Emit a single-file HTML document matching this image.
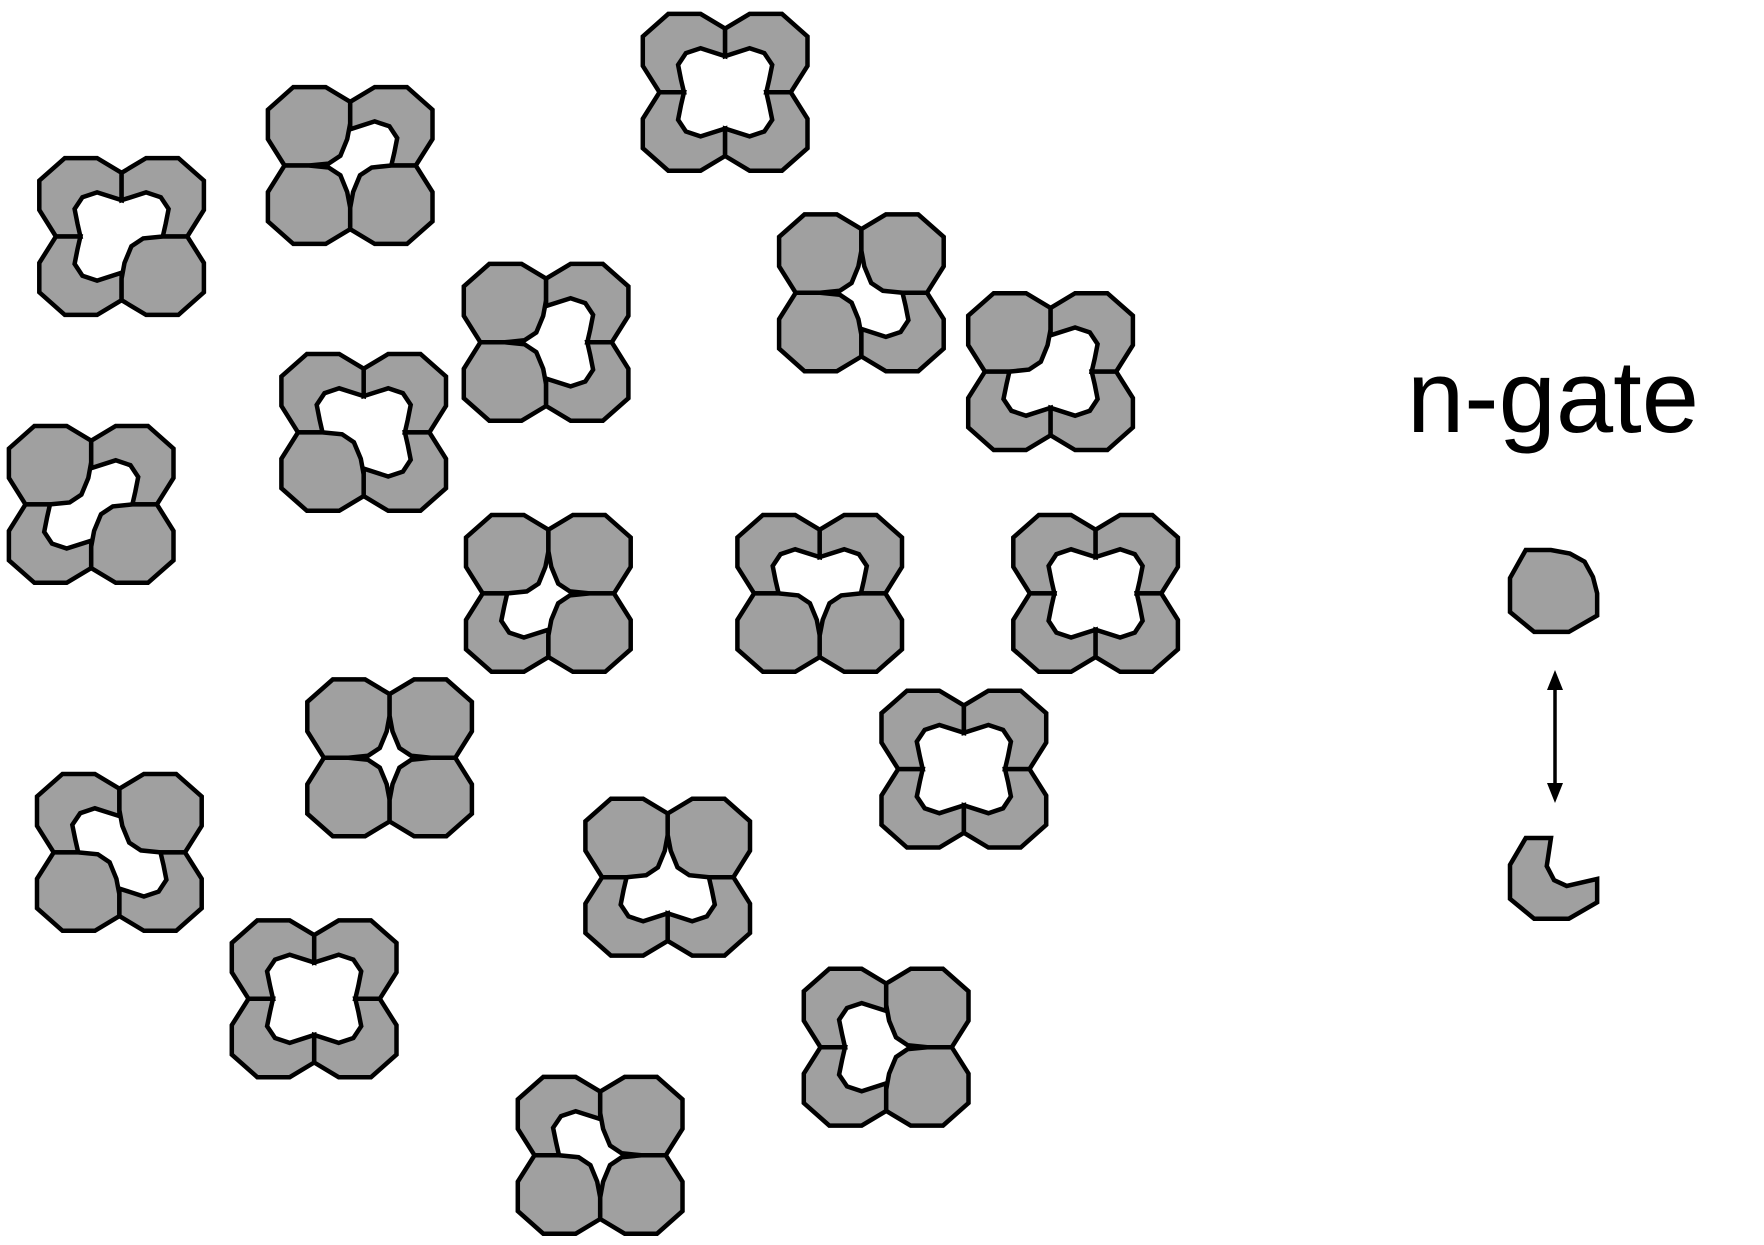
<!DOCTYPE html>
<html><head><meta charset="utf-8"><style>
html,body{margin:0;padding:0;background:#fff;}
svg{display:block;}
text{font-family:"Liberation Sans",sans-serif;}
</style></head>
<body>
<svg id="fig" width="1764" height="1245" viewBox="0 0 1764 1245" xmlns="http://www.w3.org/2000/svg">
<defs>
<marker id="ah" markerWidth="20" markerHeight="20" refX="10" refY="10" orient="auto-start-reverse" markerUnits="userSpaceOnUse" viewBox="0 0 20 20">
<path d="M0,2 L20,10 L0,18 Z" fill="#000"/>
</marker>
</defs>
<g id="clusters"></g>
<g>
<text x="1407" y="432" font-size="103" fill="#000">n-gate</text>
<g transform="translate(1510,550) scale(1.05,1.17) translate(-1514,-524)">
<polygon vector-effect="non-scaling-stroke" points="1529,524 1553,524 1571,527 1585,534 1593,547 1597,561 1597,580 1570,594 1537,594 1514,577 1514,548" fill="#a0a0a0" stroke="#000" stroke-width="4.5" stroke-linejoin="miter"/>
</g>
<line x1="1555" y1="680" x2="1555" y2="793" stroke="#000" stroke-width="3.5" marker-start="url(#ah)" marker-end="url(#ah)"/>
<g transform="translate(1510,838) scale(1.05,1.17) translate(-1514,-775)">
<polygon vector-effect="non-scaling-stroke" points="1529,775 1553,775 1549,799 1556,811 1568,816 1597,810 1597,830 1570,844 1537,844 1514,827 1514,798" fill="#a0a0a0" stroke="#000" stroke-width="4.5" stroke-linejoin="miter"/>
</g>
</g>
</svg>
<script>
// cluster centers and subunit states: TL, TR, BL, BR (C closed, O open)
const clusterX = [108,311,644,485,765,933,323,81,487,728,973,346,856,106,593,279,787,533];
const clusterY = [210,147,82,304,260,330,384,448,527,527,527,673,683,757,779,887,930,1026];
const clusterStates = ["OOOC","COCC","OOOO","COCO","CCCO","COOO","OOCO","COOC","CCOC","OOCC","OOOO","CCCC","OOOO","OCCO","CCOO","OOOO","OCOC","OCCC"];
const SCALE = 1.126;
const outer = [[0,-65],[-25,-80],[-58,-80],[-84,-57],[-84,-27],[-67,0]];
const closedInner = [[-42,0],[-22,-2],[-10,-10],[-3,-27],[0,-43]];
const openInner = [[-42,0],[-45,-13],[-48,-28],[-40,-40],[-25,-45],[0,-37]];
const signs = [[1,1],[-1,1],[1,-1],[-1,-1]];
const qNames = ['top-left','top-right','bottom-left','bottom-right'];
const NS = 'http://www.w3.org/2000/svg';
const root = document.getElementById('clusters');
clusterX.forEach((x,i)=>{
  const cx = x*SCALE, cy = clusterY[i]*SCALE;
  const g = document.createElementNS(NS,'g');
  
  
  for(let q=0;q<4;q++){
    const st = clusterStates[i][q];
    const pts = outer.concat(st==='C'?closedInner:openInner);
    const [sx,sy] = signs[q];
    const p = document.createElementNS(NS,'polygon');
    p.setAttribute('points', pts.map(([a,b])=>(cx+a*sx*0.98).toFixed(1)+','+(cy+b*sy*0.98).toFixed(1)).join(' '));
    p.setAttribute('fill','#a0a0a0');
    p.setAttribute('stroke','#000');
    p.setAttribute('stroke-width','4.5');
    p.setAttribute('stroke-linejoin','miter');
    
    
    g.appendChild(p);
  }
  root.appendChild(g);
});
</script>
</body></html>
